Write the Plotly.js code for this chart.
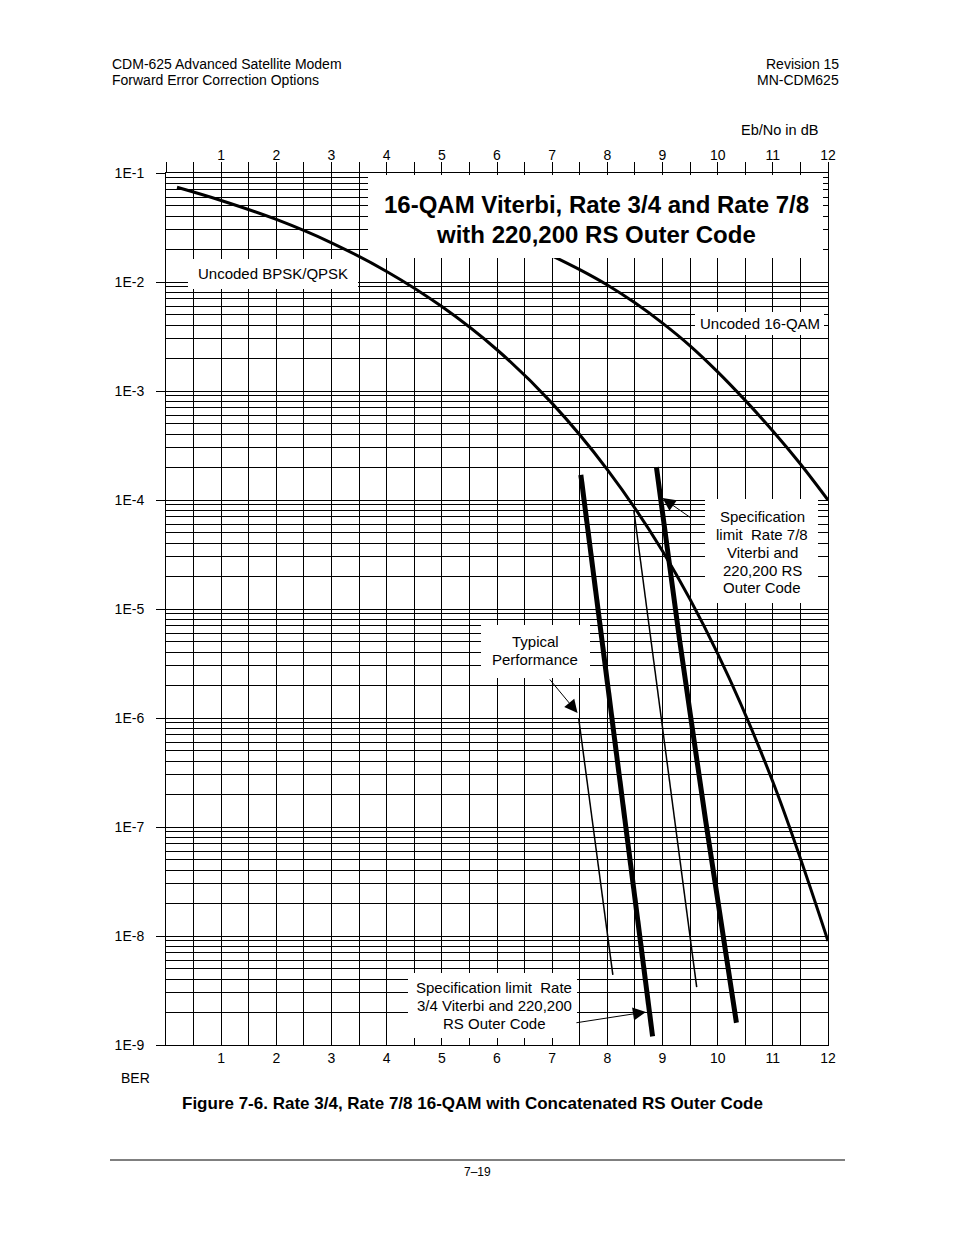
<!DOCTYPE html>
<html>
<head>
<meta charset="utf-8">
<script src="https://cdn.plot.ly/plotly-3.0.1.min.js"></script>
<style>
  body { margin: 0; background: #fff; }
  #chart { width: 954px; height: 1235px; }
</style>
</head>
<body>
<div id="chart"></div>
<script>
// axis labels
const dbTicks = [1, 2, 3, 4, 5, 6, 7, 8, 9, 10, 11, 12];
const berTicks = [1e-1, 1e-2, 1e-3, 1e-4, 1e-5, 1e-6, 1e-7, 1e-8, 1e-9];
const berTickText = ['1E-1', '1E-2', '1E-3', '1E-4', '1E-5', '1E-6', '1E-7', '1E-8', '1E-9'];

// Uncoded BPSK/QPSK
const bpskEbNo = [0.2, 1, 2, 3, 4, 5, 6, 7, 8, 9, 10, 11, 12];
const bpskBer = [7.4e-2, 5.6e-2, 3.75e-2, 2.29e-2, 1.25e-2, 5.95e-3, 2.39e-3, 7.7e-4, 1.9e-4, 3.4e-5, 3.9e-6, 2.6e-7, 9e-9];

// Uncoded 16-QAM
const qamEbNo = [7.0, 7.5, 8.0, 8.5, 9.0, 9.5, 10.0, 10.5, 11.0, 11.5, 12.0];
const qamBer = [1.74e-2, 1.3e-2, 9.4e-3, 6.45e-3, 4.2e-3, 2.6e-3, 1.5e-3, 8.2e-4, 4.3e-4, 2.14e-4, 1.0e-4];

// Specification limits (thick)
const spec34EbNo = [7.52, 7.90, 8.30, 8.82];
const spec34Ber = [1.7e-4, 5.2e-6, 1.16e-7, 1.2e-9];
const spec78EbNo = [8.89, 9.31, 9.78, 10.34];
const spec78Ber = [2.0e-4, 5.2e-6, 1.16e-7, 1.6e-9];

// Typical performance (thin)
const typ34EbNo = [7.48, 7.77, 8.10];
const typ34Ber = [1.0e-6, 7.6e-8, 4.4e-9];
const typ78EbNo = [8.48, 8.79, 9.22, 9.62];
const typ78Ber = [8.1e-5, 5.2e-6, 1.16e-7, 3.4e-9];

// plot box in page pixels
const L = 166, R = 828, T = 173, B = 1045;
const W = 954, H = 1235;
const px = (x) => (x - L) / (R - L);
const py = (y) => (B - y) / (B - T);

const FONT = 'Liberation Sans, Arial, sans-serif';

// grid every 0.5 dB, labels on the integers
const xGrid = [];
const xGridText = [];
for (let v = 0; v <= 12; v += 0.5) {
  xGrid.push(v);
  xGridText.push(dbTicks.includes(v) ? String(v) : '');
}
// log minor grid 2..9 in each decade
const yMinor = [];
for (let e = -9; e < -1; e++) {
  for (let m = 2; m <= 9; m++) yMinor.push(m * Math.pow(10, e));
}

const data = [
  { x: bpskEbNo, y: bpskBer, mode: 'lines', line: { color: '#000', width: 3, shape: 'spline' }, hoverinfo: 'none' },
  { x: qamEbNo, y: qamBer, mode: 'lines', line: { color: '#000', width: 3, shape: 'spline' }, hoverinfo: 'none' },
  { x: spec34EbNo, y: spec34Ber, mode: 'lines', line: { color: '#000', width: 5 }, hoverinfo: 'none' },
  { x: spec78EbNo, y: spec78Ber, mode: 'lines', line: { color: '#000', width: 5 }, hoverinfo: 'none' },
  { x: typ34EbNo, y: typ34Ber, mode: 'lines', line: { color: '#000', width: 1.5 }, hoverinfo: 'none' },
  { x: typ78EbNo, y: typ78Ber, mode: 'lines', line: { color: '#000', width: 1.5 }, hoverinfo: 'none' },
  // carries the top axis
  { x: [null], y: [null], xaxis: 'x2', mode: 'lines', hoverinfo: 'none' }
];

// white label boxes that blank the grid, page pixels [x0, y0, x1, y1]
const boxes = [
  [368, 175, 823, 258],
  [188, 259, 358, 289],
  [695, 312, 824, 335],
  [705, 499, 818, 603],
  [481, 625, 590, 678],
  [408, 973, 577, 1038]
];

const shapes = boxes.map(b => ({
  type: 'rect', xref: 'paper', yref: 'paper',
  x0: px(b[0]), x1: px(b[2]), y0: py(b[3]), y1: py(b[1]),
  fillcolor: '#fff', line: { width: 0 }, layer: 'above'
}));
// page rule above the folio
shapes.push({
  type: 'line', xref: 'paper', yref: 'paper',
  x0: px(110), x1: px(845), y0: py(1160), y1: py(1160),
  line: { color: '#000', width: 1 }
});

function txt(text, x, y, size, opts) {
  return Object.assign({
    text: text, xref: 'paper', yref: 'paper', x: px(x), y: py(y),
    xanchor: 'center', yanchor: 'middle', showarrow: false,
    font: { family: FONT, size: size, color: '#000' }
  }, opts || {});
}

// one annotation per line so the line spacing follows the original
function block(lines, x, ys, size, opts) {
  return lines.map((s, i) => txt(s, x, ys[i], size, opts));
}

function arrow(tipX, tipLogY, ax, ay) {
  return {
    text: '', x: tipX, y: tipLogY, xref: 'x', yref: 'y',
    showarrow: true, arrowhead: 2, arrowsize: 2.6, arrowwidth: 1,
    arrowcolor: '#000', ax: ax, ay: ay
  };
}

const annotations = [].concat(
  block(['<b>16-QAM Viterbi, Rate 3/4 and Rate 7/8</b>', '<b>with 220,200 RS Outer Code</b>'], 596, [204, 234], 24),
  [txt('Uncoded BPSK/QPSK', 273, 273, 15), txt('Uncoded 16-QAM', 760, 323, 15)],
  block(['Specification', 'limit  Rate 7/8', 'Viterbi and', '220,200 RS', 'Outer Code'], 762, [516, 534, 552, 570, 587], 15),
  block(['Typical', 'Performance'], 535, [641, 659], 15),
  block(['Specification limit  Rate', '3/4 Viterbi and 220,200', 'RS Outer Code'], 494, [987, 1005, 1023], 15),
  [
    arrow(7.46, -5.954, -29, -35),
    arrow(9.0, -3.982, 30, 21),
    arrow(8.70, -8.697, -71, 11),
    // page furniture
    txt('CDM-625 Advanced Satellite Modem', 110, 64, 14, { xanchor: 'left' }),
    txt('Forward Error Correction Options', 110, 80, 14, { xanchor: 'left' }),
    txt('Revision 15', 841, 64, 14, { xanchor: 'right' }),
    txt('MN-CDM625', 841, 80, 14, { xanchor: 'right' }),
    txt('Eb/No in dB', 820, 130, 14.5, { xanchor: 'right' }),
    txt('BER', 135, 1078, 14),
    txt('<b>Figure 7-6. Rate 3/4, Rate 7/8 16-QAM with Concatenated RS Outer Code</b>', 472, 1103, 17),
    txt('7–19', 477, 1172, 12)
  ]
);

const layout = {
  width: W,
  height: H,
  margin: { l: L, r: W - R, t: T, b: H - B, pad: 0 },
  paper_bgcolor: '#fff',
  plot_bgcolor: '#fff',
  showlegend: false,
  font: { family: FONT, size: 14, color: '#000' },
  xaxis: {
    range: [0, 12],
    tickmode: 'array', tickvals: xGrid, ticktext: xGridText,
    ticks: '', showgrid: true, gridcolor: '#000', gridwidth: 1,
    zeroline: false, showline: true, linecolor: '#000', linewidth: 1,
    ticklabelstandoff: 0,
    tickfont: { family: FONT, size: 14, color: '#000' }
  },
  xaxis2: {
    range: [0, 12], overlaying: 'x', side: 'top', anchor: 'y',
    tickmode: 'array', tickvals: xGrid, ticktext: xGridText,
    ticks: 'outside', ticklen: 10, tickwidth: 1, tickcolor: '#000',
    ticklabelstandoff: -4,
    showgrid: false, zeroline: false, showline: true, linecolor: '#000', linewidth: 1,
    tickfont: { family: FONT, size: 14, color: '#000' }
  },
  yaxis: {
    type: 'log', range: [-9, -1],
    tickmode: 'array', tickvals: berTicks, ticktext: berTickText,
    ticks: 'outside', ticklen: 9, tickwidth: 1, tickcolor: '#000',
    ticklabelstandoff: 9,
    showgrid: true, gridcolor: '#000', gridwidth: 1,
    minor: { tickmode: 'array', tickvals: yMinor, showgrid: true, gridcolor: '#000', gridwidth: 1, ticks: '' },
    zeroline: false, showline: true, mirror: true, linecolor: '#000', linewidth: 1,
    tickfont: { family: FONT, size: 14, color: '#000' }
  },
  shapes: shapes,
  annotations: annotations
};

Plotly.newPlot('chart', data, layout, { displayModeBar: false, staticPlot: true });
</script>
</body>
</html>
